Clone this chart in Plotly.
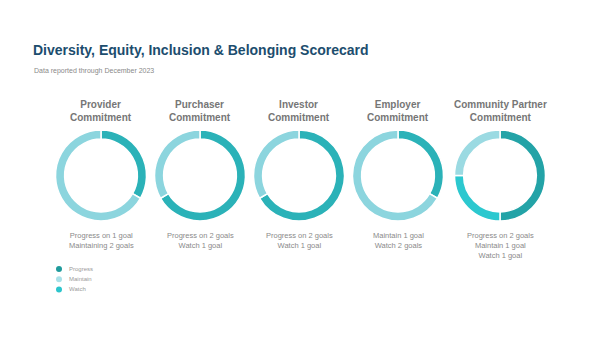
import plotly.graph_objects as go

# ---- data -------------------------------------------------------------
commitments = ["Provider<br>Commitment", "Purchaser<br>Commitment", "Investor<br>Commitment",
               "Employer<br>Commitment", "Community Partner<br>Commitment"]

# goals per status, clockwise from 12 o'clock
provider_status = ["Progress", "Maintain"]
provider_goals = [1, 2]
purchaser_status = ["Progress", "Watch"]
purchaser_goals = [2, 1]
investor_status = ["Progress", "Watch"]
investor_goals = [2, 1]
employer_status = ["Maintain", "Watch"]
employer_goals = [1, 2]
community_status = ["Progress", "Watch", "Maintain"]
community_goals = [2, 1, 1]

summaries = [
    "Progress on 1 goal<br>Maintaining 2 goals",
    "Progress on 2 goals<br>Watch 1 goal",
    "Progress on 2 goals<br>Watch 1 goal",
    "Maintain 1 goal<br>Watch 2 goals",
    "Progress on 2 goals<br>Maintain 1 goal<br>Watch 1 goal",
]

legend_labels = ["Progress", "Maintain", "Watch"]

# ---- styling ----------------------------------------------------------
W, H = 600, 337
FONT = "Liberation Sans, Arial, sans-serif"
DARK = "#2bb2b8"
LIGHT = "#8cd5de"
slice_colors = [
    [DARK, LIGHT],
    [DARK, LIGHT],
    [DARK, LIGHT],
    [DARK, LIGHT],
    ["#23a3a7", "#2cc8cf", "#9bdae2"],
]
legend_colors = ["#1f9b9c", "#a9e1e8", "#2cc5cc"]

centers_x = [101, 200, 299, 398, 500]
center_y = 175.5
radius = 45.5

statuses = [provider_status, purchaser_status, investor_status, employer_status, community_status]
goals = [provider_goals, purchaser_goals, investor_goals, employer_goals, community_goals]

fig = go.Figure()

for i in range(len(commitments)):
    cx = centers_x[i]
    fig.add_trace(go.Pie(
        labels=statuses[i],
        values=goals[i],
        hole=0.8,
        sort=False,
        direction="clockwise",
        rotation=0,
        textinfo="none",
        hoverinfo="label+value",
        showlegend=False,
        marker=dict(colors=slice_colors[i], line=dict(color="white", width=1.5)),
        domain=dict(x=[(cx - radius) / W, (cx + radius) / W],
                    y=[(H - center_y - radius) / H, (H - center_y + radius) / H]),
    ))
    # heading above each ring
    fig.add_annotation(x=cx / W, y=(H - 111) / H, xref="paper", yref="paper",
                       text="<b>" + commitments[i] + "</b>", showarrow=False,
                       font=dict(family=FONT, size=10, color="#767676"),
                       xanchor="center", yanchor="middle", align="center")
    # summary text below each ring
    fig.add_annotation(x=cx / W, y=(H - 229) / H, xref="paper", yref="paper",
                       text=summaries[i], showarrow=False,
                       font=dict(family=FONT, size=7.5, color="#8a8a8a"),
                       xanchor="center", yanchor="top", align="center")

# status key in the lower left: dots, then their names
fig.add_trace(go.Scatter(
    x=[0] * len(legend_labels), y=legend_labels,
    mode="markers", marker=dict(size=6, color=legend_colors),
    hoverinfo="skip", showlegend=False, cliponaxis=False,
))
fig.add_trace(go.Scatter(
    x=[0.066] * len(legend_labels), y=legend_labels,
    mode="text", text=legend_labels, textposition="middle right",
    textfont=dict(family=FONT, size=6, color="#9a9a9a"),
    hoverinfo="skip", showlegend=False, cliponaxis=False,
))

fig.update_xaxes(visible=False, range=[0, 1], domain=[59 / W, 0.35], fixedrange=True)
fig.update_yaxes(visible=False, range=[2, 0], domain=[(H - 289.5) / H, (H - 269) / H],
                 fixedrange=True, type="category")

fig.update_layout(
    width=W, height=H,
    margin=dict(l=0, r=0, t=0, b=0),
    paper_bgcolor="white", plot_bgcolor="white",
    title=dict(text="<b>Diversity, Equity, Inclusion &amp; Belonging Scorecard</b>",
               x=33 / W, xanchor="left", y=(H - 50) / H, yanchor="middle",
               font=dict(family=FONT, size=14, color="#1c4d6e")),
    annotations=list(fig.layout.annotations) + [
        dict(text="Data reported through December 2023", x=32 / W, y=(H - 71) / H,
             xref="paper", yref="paper", xanchor="left", yanchor="middle", showarrow=False,
             font=dict(family=FONT, size=7, color="#8a8a8a")),
    ],
)

fig.write_html("out.html")
